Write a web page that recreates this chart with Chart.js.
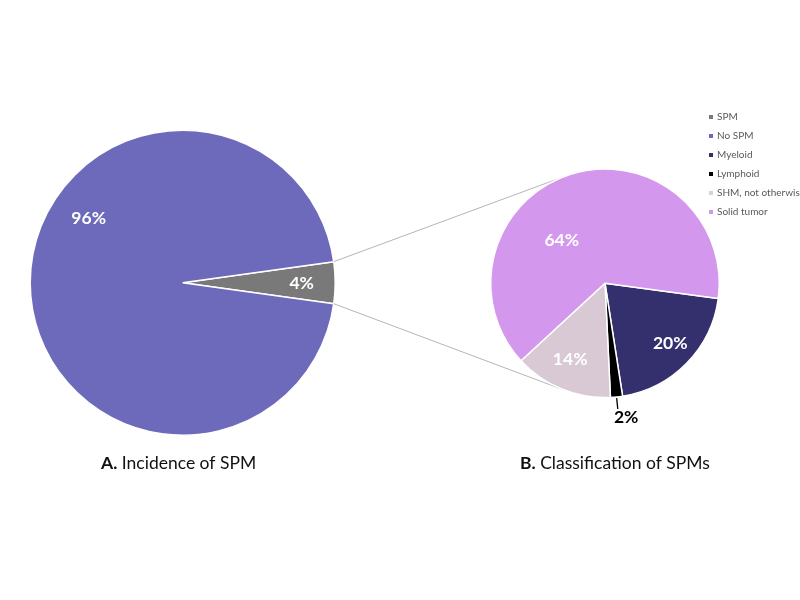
<!DOCTYPE html>
<html><head><meta charset="utf-8">
<script src="https://cdn.jsdelivr.net/npm/chart.js@4.4.0/dist/chart.umd.min.js"></script>
<style>
html,body{margin:0;padding:0;background:#fff;overflow:hidden;}
#wrap{position:relative;width:800px;height:600px;overflow:hidden;background:#fff;}
canvas{position:absolute;left:0;top:0;}
#legend{position:absolute;left:0;top:0;width:800px;height:600px;pointer-events:none;font-family:Lato,sans-serif;font-size:10px;color:#595959;}
.row{position:absolute;white-space:nowrap;line-height:12px;height:12px;}
.sq{display:inline-block;width:4px;height:4px;margin-right:4px;vertical-align:middle;position:relative;top:-1px;}
</style></head>
<body>
<div id="wrap">
<canvas id="chartA" width="800" height="600"></canvas>
<canvas id="chartB" width="800" height="600"></canvas>
<div id="legend"></div>
</div>
<script>
// ---- data ----
const incidenceLabels = ['SPM', 'No SPM'];
const incidenceValues = [4.4, 95.6];
const incidenceColors = ['#797979', '#6e6abb'];

const classLabels = ['Myeloid', 'Lymphoid', 'SHM, not otherwise specified', 'Solid tumor'];
const classValues = [20.4, 1.7, 13.9, 64.0];
const classColors = ['#34306e', '#000000', '#d9c9d5', '#d497ee'];

const legendLabels = ['SPM', 'No SPM', 'Myeloid', 'Lymphoid', 'SHM, not otherwise specified', 'Solid tumor'];
const legendColors = ['#797979', '#6e6abb', '#34306e', '#000000', '#d4d4d4', '#d497ee'];

const titleA = ['A.', ' Incidence of SPM'];
const titleB = ['B.', ' Classification of SPMs'];

// ---- plugins ----
const sliceLabels = {
  id: 'sliceLabels',
  afterDatasetsDraw(chart, args, opts) {
    const meta = chart.getDatasetMeta(0);
    const data = chart.data.datasets[0].data;
    const total = data.reduce((a, b) => a + b, 0);
    const ctx = chart.ctx;
    const fs = 17.5;
    ctx.save();
    ctx.font = 'bold ' + fs + 'px Lato';
    ctx.textAlign = 'center';
    ctx.textBaseline = 'alphabetic';
    meta.data.forEach((arc, i) => {
      const p = arc.getProps(['x', 'y', 'startAngle', 'endAngle', 'outerRadius'], true);
      const midTrue = (p.startAngle + p.endAngle) / 2;
      const mid = midTrue + (opts.shift[i] || 0) * Math.PI / 180;
      const d = opts.dist[i] * p.outerRadius;
      const tx = p.x + Math.cos(mid) * d;
      const ty = p.y + Math.sin(mid) * d;
      const txt = Math.round(data[i] / total * 100) + '%';
      const outside = opts.dist[i] > 1;
      if (outside) {
        ctx.strokeStyle = '#000';
        ctx.lineWidth = 1.3;
        ctx.beginPath();
        ctx.moveTo(p.x + Math.cos(midTrue) * p.outerRadius * 1.01, p.y + Math.sin(midTrue) * p.outerRadius * 1.01);
        ctx.lineTo(p.x + Math.cos(midTrue) * p.outerRadius * 1.105, p.y + Math.sin(midTrue) * p.outerRadius * 1.105);
        ctx.stroke();
      }
      ctx.fillStyle = outside ? '#000' : '#fff';
      ctx.fillText(txt, tx, ty + fs * 0.36);
    });
    ctx.restore();
  }
};

const titlePlugin = {
  id: 'bottomTitle',
  afterDraw(chart, args, opts) {
    const ctx = chart.ctx;
    ctx.save();
    ctx.fillStyle = '#111';
    ctx.textBaseline = 'alphabetic';
    ctx.textAlign = 'left';
    opts.items.forEach(it => {
      ctx.font = 'bold 17.5px Lato';
      ctx.fillText(it.text[0], it.x, it.y);
      const w = ctx.measureText(it.text[0]).width;
      ctx.font = '17.5px Lato';
      ctx.fillText(it.text[1], it.x + w, it.y);
    });
    ctx.restore();
  }
};

const connectorPlugin = {
  id: 'connector',
  beforeDatasetsDraw(chart, args, opts) {
    const src = opts.source;
    if (!src) return;
    const a = src.getDatasetMeta(0).data[0].getProps(['x', 'y', 'startAngle', 'endAngle', 'outerRadius'], true);
    const b = chart.getDatasetMeta(0).data[0].getProps(['x', 'y', 'outerRadius'], true);
    const ctx = chart.ctx;
    ctx.save();
    ctx.strokeStyle = '#b5b5b5';
    ctx.lineWidth = 1;
    [[a.startAngle, -1], [a.endAngle, 1]].forEach(([ang, sgn]) => {
      const px = a.x + Math.cos(ang) * a.outerRadius;
      const py = a.y + Math.sin(ang) * a.outerRadius;
      const dx = b.x - px, dy = b.y - py;
      const dist = Math.hypot(dx, dy);
      const base = Math.atan2(dy, dx);
      const off = Math.asin(b.outerRadius / dist);
      const L = Math.sqrt(dist * dist - b.outerRadius * b.outerRadius);
      const dir = base + sgn * off;
      ctx.beginPath();
      ctx.moveTo(px, py);
      ctx.lineTo(px + Math.cos(dir) * L, py + Math.sin(dir) * L);
      ctx.stroke();
    });
    ctx.restore();
  }
};

const common = {
  responsive: false,
  animation: false,
  events: [],
};

const chartA = new Chart(document.getElementById('chartA'), {
  type: 'pie',
  data: {
    labels: incidenceLabels,
    datasets: [{ data: incidenceValues, backgroundColor: incidenceColors, borderColor: '#fff', borderWidth: 1.5 }]
  },
  options: Object.assign({}, common, {
    rotation: 90 - incidenceValues[0] / (incidenceValues[0] + incidenceValues[1]) * 180,
    layout: { padding: { left: 29.45, right: 464.05, top: 129.45, bottom: 164.05 } },
    plugins: {
      legend: { display: false },
      tooltip: { enabled: false },
      sliceLabels: { shift: [0, 34.7], dist: [0.78, 0.75] },
      bottomTitle: { items: [ { text: titleA, x: 101, y: 469 }, { text: titleB, x: 520, y: 469 } ] }
    }
  }),
  plugins: [sliceLabels, titlePlugin]
});

const chartB = new Chart(document.getElementById('chartB'), {
  type: 'pie',
  data: {
    labels: classLabels,
    datasets: [{ data: classValues, backgroundColor: classColors, borderColor: '#fff', borderWidth: 1.5 }]
  },
  options: Object.assign({}, common, {
    rotation: 97.7,
    layout: { padding: { left: 489.95, right: 79.95, top: 168.25, bottom: 201.65 } },
    plugins: {
      legend: { display: false },
      tooltip: { enabled: false },
      sliceLabels: { shift: [-2.3, -3.2, 2.4, -27], dist: [0.77, 1.185, 0.73, 0.54] },
      connector: { source: chartA }
    }
  }),
  plugins: [connectorPlugin, sliceLabels]
});

// ---- legend ----
const legendEl = document.getElementById('legend');
legendLabels.forEach((lab, i) => {
  const row = document.createElement('div');
  row.className = 'row';
  row.style.left = '709px';
  row.style.top = (116.7 + i * 19 - 6.3) + 'px';
  const sq = document.createElement('span');
  sq.className = 'sq';
  sq.style.background = legendColors[i];
  const t = document.createElement('span');
  t.textContent = lab;
  row.appendChild(sq);
  row.appendChild(t);
  legendEl.appendChild(row);
});
</script>
</body></html>
